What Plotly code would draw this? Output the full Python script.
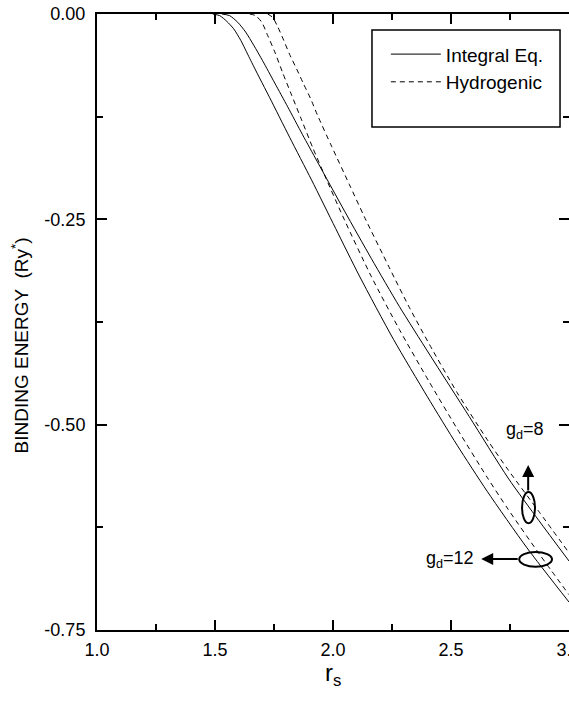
import plotly.graph_objects as go

# Integral equation, g_d = 12 (solid)
rs_ie12 = [1.490, 1.520, 1.550, 1.579, 1.609, 1.647, 1.689, 1.732, 1.816, 1.909, 2.011, 2.112, 2.256, 2.400, 2.526, 2.653, 2.822, 3.000]
e_ie12 = [0.000, -0.002, -0.009, -0.018, -0.032, -0.054, -0.078, -0.102, -0.150, -0.202, -0.261, -0.319, -0.396, -0.466, -0.525, -0.581, -0.650, -0.716]

# Integral equation, g_d = 8 (solid)
rs_ie8 = [1.529, 1.562, 1.596, 1.630, 1.664, 1.702, 1.753, 1.808, 1.871, 1.934, 2.049, 2.163, 2.281, 2.408, 2.577, 2.742, 2.873, 3.000]
e_ie8 = [0.000, -0.002, -0.010, -0.022, -0.038, -0.057, -0.084, -0.113, -0.147, -0.180, -0.240, -0.298, -0.356, -0.414, -0.490, -0.565, -0.617, -0.666]

# Hydrogenic, g_d = 12 (dashed)
rs_h12 = [1.647, 1.672, 1.698, 1.723, 1.753, 1.786, 1.825, 1.867, 1.913, 1.964, 2.049, 2.163, 2.281, 2.408, 2.526, 2.653, 2.742, 2.873, 3.000]
e_h12 = [0.000, -0.002, -0.010, -0.026, -0.046, -0.071, -0.099, -0.129, -0.162, -0.196, -0.251, -0.320, -0.384, -0.448, -0.505, -0.564, -0.603, -0.657, -0.707]

# Hydrogenic, g_d = 8 (dashed)
rs_h8 = [1.723, 1.744, 1.765, 1.791, 1.816, 1.846, 1.875, 1.905, 1.934, 1.994, 2.070, 2.133, 2.239, 2.323, 2.408, 2.526, 2.653, 2.742, 2.873, 3.000]
e_h8 = [0.000, -0.004, -0.015, -0.032, -0.049, -0.067, -0.085, -0.103, -0.123, -0.161, -0.208, -0.247, -0.309, -0.357, -0.402, -0.461, -0.518, -0.555, -0.606, -0.656]

x_tickvals = [1.0, 1.5, 2.0, 2.5, 3.0]
x_ticktext = ["1.0", "1.5", "2.0", "2.5", "3.0"]
y_tickvals = [0.0, -0.25, -0.50, -0.75]
y_ticktext = ["0.00", "-0.25", "-0.50", "-0.75"]

FONT = "Liberation Sans, Arial, Helvetica, sans-serif"
solid = dict(color="black", width=1)
dashed = dict(color="black", width=1, dash="5px,4px")

fig = go.Figure()
fig.add_trace(go.Scatter(x=rs_ie12, y=e_ie12, mode="lines", line=dict(**solid, shape="spline", smoothing=0.7),
                         name="Integral Eq.", legendgroup="ie"))
fig.add_trace(go.Scatter(x=rs_ie8, y=e_ie8, mode="lines", line=dict(**solid, shape="spline", smoothing=0.7),
                         name="Integral Eq.", legendgroup="ie", showlegend=False))
fig.add_trace(go.Scatter(x=rs_h12, y=e_h12, mode="lines", line=dict(**dashed, shape="spline", smoothing=0.7),
                         name="Hydrogenic", legendgroup="h"))
fig.add_trace(go.Scatter(x=rs_h8, y=e_h8, mode="lines", line=dict(**dashed, shape="spline", smoothing=0.7),
                         name="Hydrogenic", legendgroup="h", showlegend=False))

axis_common = dict(showline=True, linecolor="black", linewidth=2, mirror="ticks",
                   ticks="inside", ticklen=10, tickwidth=2, tickcolor="black",
                   showgrid=False, zeroline=False, automargin=False, ticklabeloverflow="allow",
                   tickfont=dict(family=FONT, size=18, color="black"))

fig.update_xaxes(range=[1.0, 3.0], tickvals=x_tickvals, ticktext=x_ticktext,
                 minor=dict(ticks="inside", ticklen=6, tickwidth=2, tickcolor="black", dtick=0.25, tick0=1.0, showgrid=False),
                 ticklabelstandoff=2, **axis_common)
fig.update_yaxes(range=[-0.75, 0.0], tickvals=y_tickvals, ticktext=y_ticktext,
                 minor=dict(ticks="inside", ticklen=6, tickwidth=2, tickcolor="black", dtick=0.125, tick0=0, showgrid=False),
                 ticklabelstandoff=6, **axis_common)

# legend box
fig.add_shape(type="rect", xref="paper", yref="paper", x0=0.5826, x1=0.981, y0=0.8166, y1=0.974,
              line=dict(color="black", width=1.5), fillcolor="rgba(0,0,0,0)")

# ellipses marking curve pairs
fig.add_shape(type="circle", xref="x", yref="y", x0=2.801, x1=2.856, y0=-0.620, y1=-0.582,
              line=dict(color="black", width=2))
fig.add_shape(type="circle", xref="x", yref="y", x0=2.789, x1=2.928, y0=-0.673, y1=-0.655,
              line=dict(color="black", width=2))

# arrows
fig.add_annotation(x=2.827, y=-0.549, ax=2.827, ay=-0.582, xref="x", yref="y", axref="x", ayref="y",
                   text="", showarrow=True, arrowhead=2, arrowsize=1.2, arrowwidth=2, arrowcolor="black")
fig.add_annotation(x=2.628, y=-0.6636, ax=2.789, ay=-0.6636, xref="x", yref="y", axref="x", ayref="y",
                   text="", showarrow=True, arrowhead=2, arrowsize=1.2, arrowwidth=2, arrowcolor="black")

fig.add_annotation(x=2.903, y=-0.5065, xref="x", yref="y", text="g<sub>d</sub>=8", showarrow=False,
                   xanchor="right", yanchor="middle", font=dict(family=FONT, size=18, color="black"))
fig.add_annotation(x=2.607, y=-0.6636, xref="x", yref="y", text="g<sub>d</sub>=12", showarrow=False,
                   xanchor="right", yanchor="middle", font=dict(family=FONT, size=18, color="black"))

# axis titles
fig.add_annotation(x=-0.163, y=0.462, xref="paper", yref="paper", text="BINDING ENERGY  (Ry<sup>*</sup>)",
                   textangle=-90, showarrow=False, xanchor="center", yanchor="middle",
                   font=dict(family=FONT, size=19, color="black"))
fig.add_annotation(x=0.5, y=-0.072, xref="paper", yref="paper", text="r<sub>s</sub>",
                   showarrow=False, xanchor="center", yanchor="middle",
                   font=dict(family=FONT, size=24, color="black"))

fig.update_layout(
    width=569, height=702,
    margin=dict(l=97, r=0, t=14, b=72),
    paper_bgcolor="white", plot_bgcolor="white",
    showlegend=True,
    legend=dict(x=0.612, y=0.9655, xanchor="left", yanchor="top", bgcolor="rgba(0,0,0,0)",
                borderwidth=0, itemwidth=50, font=dict(family=FONT, size=19, color="black"), tracegroupgap=0),
)

# remove the browser's default 8px body margin so the figure sits at the window origin
fig.write_html("out.html", config={"displayModeBar": False},
               post_script="document.body.style.margin='0px';")
